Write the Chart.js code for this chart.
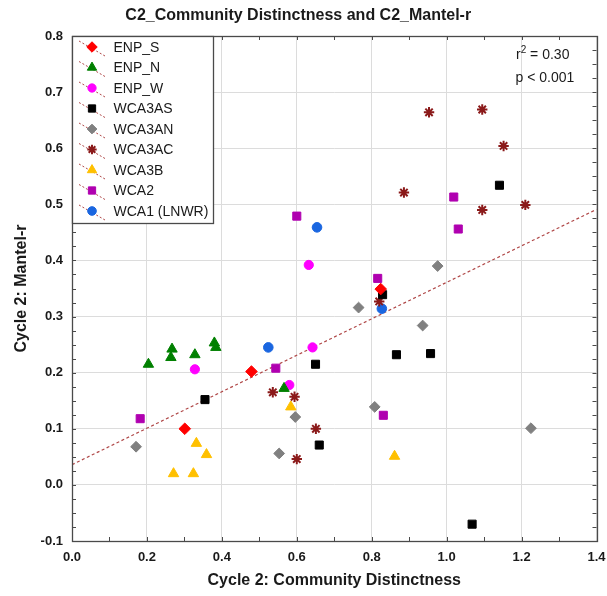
<!DOCTYPE html>
<html>
<head>
<meta charset="utf-8">
<script src="https://cdn.jsdelivr.net/npm/chart.js@4.4.1/dist/chart.umd.min.js"></script>
<style>
  html, body { margin: 0; padding: 0; background: #ffffff; }
  canvas { display: block; }
</style>
</head>
<body>
<canvas id="c" width="607" height="596"></canvas>
<script>
// ---- data ----
const chartTitle = 'C2_Community Distinctness and C2_Mantel-r';
const xAxisTitle = 'Cycle 2: Community Distinctness';
const yAxisTitle = 'Cycle 2: Mantel-r';
const xTickLabels = ['0.0', '0.2', '0.4', '0.6', '0.8', '1.0', '1.2', '1.4'];
const yTickLabels = ['-0.1', '0.0', '0.1', '0.2', '0.3', '0.4', '0.5', '0.6', '0.7', '0.8'];

const seriesNames = ['ENP_S', 'ENP_N', 'ENP_W', 'WCA3AS', 'WCA3AN', 'WCA3AC', 'WCA3B', 'WCA2', 'WCA1 (LNWR)'];

const enpSX = [0.479, 0.301, 0.824];
const enpSY = [0.202, 0.100, 0.349];
const enpNX = [0.204, 0.267, 0.264, 0.328, 0.380, 0.384, 0.566];
const enpNY = [0.215, 0.242, 0.227, 0.232, 0.253, 0.245, 0.172];
const enpWX = [0.328, 0.642, 0.580, 0.632];
const enpWY = [0.206, 0.245, 0.178, 0.392];
const wca3asX = [0.355, 0.650, 0.660, 1.141, 0.829, 0.866, 0.957, 1.068];
const wca3asY = [0.152, 0.215, 0.071, 0.534, 0.339, 0.232, 0.234, -0.070];
const wca3anX = [0.171, 0.596, 0.553, 0.976, 0.765, 0.936, 0.808, 1.225];
const wca3anY = [0.068, 0.121, 0.056, 0.390, 0.316, 0.284, 0.139, 0.101];
const wca3acX = [0.953, 1.095, 1.152, 0.886, 1.095, 1.210, 0.820, 0.536, 0.594, 0.651, 0.600];
const wca3acY = [0.664, 0.669, 0.604, 0.521, 0.490, 0.499, 0.327, 0.165, 0.157, 0.100, 0.046];
const wca3bX = [0.584, 0.332, 0.359, 0.271, 0.324, 0.861];
const wca3bY = [0.139, 0.074, 0.054, 0.020, 0.020, 0.051];
const wca2X = [0.600, 0.544, 0.182, 1.019, 1.031, 0.816, 0.831];
const wca2Y = [0.479, 0.208, 0.118, 0.513, 0.456, 0.368, 0.124];
const wca1X = [0.654, 0.524, 0.827];
const wca1Y = [0.459, 0.245, 0.314];

// fitted regression line end points
const trendX = [0.0, 1.4];
const trendY = [0.036, 0.491];

const statR2 = '0.30';
const statP = 'p < 0.001';

// ---- styles ----
const seriesX = [enpSX, enpNX, enpWX, wca3asX, wca3anX, wca3acX, wca3bX, wca2X, wca1X];
const seriesY = [enpSY, enpNY, enpWY, wca3asY, wca3anY, wca3acY, wca3bY, wca2Y, wca1Y];
const seriesStyle = [
  { color: '#ff0000', shape: 'rectRot',  r: 5.8, bw: 1 },
  { color: '#008000', shape: 'triangle', r: 6.0, bw: 1 },
  { color: '#ff00ff', shape: 'circle',   r: 4.6, bw: 1 },
  { color: '#000000', shape: 'rect',     r: 5.7, bw: 1 },
  { color: '#808080', shape: 'rectRot',  r: 5.4, bw: 1 },
  { color: '#8b1a1a', shape: 'star',     r: 5.2, bw: 2 },
  { color: '#ffc000', shape: 'triangle', r: 6.0, bw: 1 },
  { color: '#b000b0', shape: 'rect',     r: 5.7, bw: 1 },
  { color: '#1a66e0', shape: 'circle',   r: 4.8, bw: 1 }
];
const trendColor = '#b04848';
const frameColor = '#4a4a4a';
const gridColor = '#dcdcdc';
const fontFamily = "'Liberation Sans', Arial, sans-serif";

Chart.defaults.font.family = fontFamily;
Chart.defaults.color = '#1a1a1a';

const datasets = seriesNames.map((name, i) => ({
  label: name,
  data: seriesX[i].map((x, j) => ({ x: x, y: seriesY[i][j] })),
  pointStyle: seriesStyle[i].shape,
  pointRadius: seriesStyle[i].r,
  pointHoverRadius: seriesStyle[i].r,
  pointBorderWidth: seriesStyle[i].bw,
  backgroundColor: seriesStyle[i].color,
  borderColor: seriesStyle[i].color,
  showLine: false,
  order: 0
}));

datasets.push({
  type: 'line',
  label: 'fit',
  data: trendX.map((x, j) => ({ x: x, y: trendY[j] })),
  borderColor: trendColor,
  borderWidth: 1.2,
  borderDash: [3, 2.5],
  pointRadius: 0,
  fill: false,
  order: 1
});

// frame, inward ticks, boxed legend and statistics
const decorPlugin = {
  id: 'decor',
  afterDatasetsDraw(chart) {
    const ctx = chart.ctx;
    const a = chart.chartArea;
    const xs = chart.scales.x, ys = chart.scales.y;
    ctx.save();

    // inward tick marks on all four sides
    ctx.strokeStyle = frameColor;
    ctx.lineWidth = 1;
    ctx.beginPath();
    for (let k = 0; k <= 36; k++) {
      const v = -0.1 + k * 0.025;
      const py = Math.round(ys.getPixelForValue(v)) + 0.5;
      ctx.moveTo(a.left, py); ctx.lineTo(a.left + 4, py);
      ctx.moveTo(a.right, py); ctx.lineTo(a.right - 4, py);
    }
    for (let k = 0; k <= 14; k++) {
      const v = k * 0.1;
      const px = Math.round(xs.getPixelForValue(v)) + 0.5;
      ctx.moveTo(px, a.bottom); ctx.lineTo(px, a.bottom - 4);
      ctx.moveTo(px, a.top); ctx.lineTo(px, a.top + 4);
    }
    ctx.stroke();

    // frame
    ctx.strokeStyle = frameColor;
    ctx.lineWidth = 1.3;
    ctx.strokeRect(Math.round(a.left) + 0.5, Math.round(a.top) + 0.5,
                   Math.round(a.right - a.left), Math.round(a.bottom - a.top));

    // boxed legend
    const lx = Math.round(a.left) + 0.5, ly = Math.round(a.top) + 0.5;
    const lw = 141, rowH = 20.5, lh = 187;
    ctx.fillStyle = '#ffffff';
    ctx.fillRect(lx, ly, lw, lh);
    ctx.strokeStyle = frameColor;
    ctx.lineWidth = 1.3;
    ctx.strokeRect(lx, ly, lw, lh);
    ctx.font = '14px ' + fontFamily;
    ctx.textBaseline = 'middle';
    ctx.textAlign = 'left';
    seriesNames.forEach((name, i) => {
      const cy = ly + 10.5 + rowH * i;
      const mx = lx + 19.5;
      ctx.save();
      ctx.strokeStyle = trendColor;
      ctx.lineWidth = 1;
      ctx.setLineDash([2, 2]);
      ctx.beginPath();
      ctx.moveTo(mx - 13, cy - 6);
      ctx.lineTo(mx + 13, cy + 9);
      ctx.stroke();
      ctx.restore();
      const st = seriesStyle[i];
      ctx.save();
      ctx.fillStyle = st.color;
      ctx.strokeStyle = st.color;
      ctx.lineWidth = st.bw;
      Chart.helpers.drawPoint(ctx, { pointStyle: st.shape, radius: st.r * 0.9, borderWidth: st.bw, rotation: 0 }, mx, cy);
      ctx.restore();
      ctx.fillStyle = '#1a1a1a';
      ctx.fillText(name, lx + 41, cy + 1);
    });

    // regression statistics
    const sx = a.right - 80.5;
    ctx.fillStyle = '#1a1a1a';
    ctx.font = '14px ' + fontFamily;
    ctx.fillText('r', sx, a.top + 19.5);
    const rW = ctx.measureText('r').width;
    ctx.font = '10px ' + fontFamily;
    ctx.fillText('2', sx + rW, a.top + 14.5);
    const tW = ctx.measureText('2').width;
    ctx.font = '14px ' + fontFamily;
    ctx.fillText(' = ' + statR2, sx + rW + tW, a.top + 19.5);
    ctx.fillText(statP, sx - 0.5, a.top + 42.5);

    ctx.restore();
  }
};

new Chart(document.getElementById('c'), {
  type: 'scatter',
  data: { datasets: datasets },
  options: {
    responsive: false,
    animation: false,
    events: [],
    layout: { padding: { left: 0, right: 10.5, top: 0, bottom: 0 } },
    plugins: {
      legend: { display: false },
      tooltip: { enabled: false },
      title: {
        display: true,
        text: chartTitle,
        font: { size: 16, weight: 'bold', family: fontFamily },
        color: '#1a1a1a',
        padding: { top: 5.5, bottom: 11.3 }
      }
    },
    scales: {
      x: {
        type: 'linear',
        min: 0,
        max: 1.4,
        afterFit(scale) {
          scale.height = 55;
          scale.paddingLeft = 0;
          scale.paddingRight = 0;
        },
        afterBuildTicks(scale) {
          scale.ticks = xTickLabels.map(t => ({ value: parseFloat(t) }));
        },
        ticks: {
          callback: (v, i) => xTickLabels[i],
          font: { size: 13, weight: 'bold' },
          color: '#1a1a1a',
          padding: 9,
          maxRotation: 0,
          autoSkip: false
        },
        grid: { color: gridColor, drawTicks: false, lineWidth: 1 },
        border: { display: false },
        title: {
          display: true,
          text: xAxisTitle,
          font: { size: 16, weight: 'bold' },
          color: '#1a1a1a',
          padding: { top: 0, bottom: 5.4 }
        }
      },
      y: {
        type: 'linear',
        min: -0.1,
        max: 0.8,
        afterFit(scale) { scale.width = 72; },
        afterBuildTicks(scale) {
          scale.ticks = yTickLabels.map(t => ({ value: parseFloat(t) }));
        },
        ticks: {
          callback: (v, i) => yTickLabels[i],
          font: { size: 13, weight: 'bold' },
          color: '#1a1a1a',
          padding: 9,
          autoSkip: false
        },
        grid: { color: gridColor, drawTicks: false, lineWidth: 1 },
        border: { display: false },
        title: {
          display: true,
          text: yAxisTitle,
          font: { size: 16, weight: 'bold' },
          color: '#1a1a1a',
          padding: { top: 12, bottom: 0 }
        }
      }
    }
  },
  plugins: [decorPlugin]
});
</script>
</body>
</html>
